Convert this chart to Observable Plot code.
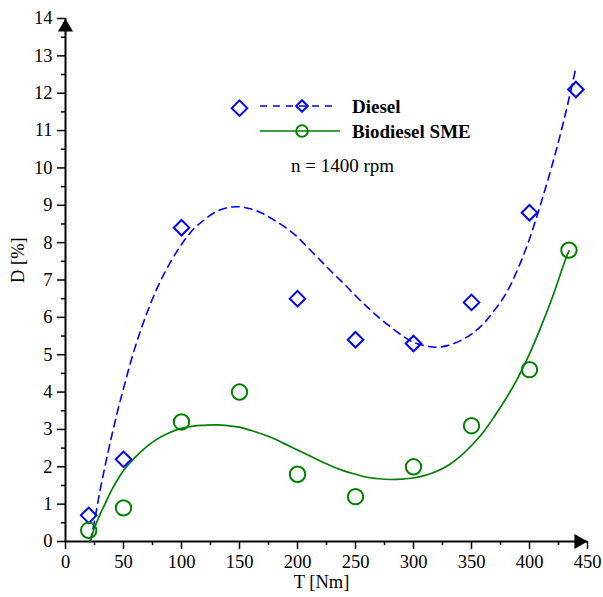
<!DOCTYPE html>
<html><head><meta charset="utf-8">
<script src="https://cdn.jsdelivr.net/npm/d3@7"></script>
<script src="https://cdn.jsdelivr.net/npm/@observablehq/plot@0.6"></script>
<style>html,body{margin:0;padding:0;background:#fff} svg{display:block}</style>
</head><body><div id="chart"></div>
<script>
// ---- data ----
const dieselT = [20, 50, 100, 150, 200, 250, 300, 350, 400, 440];
const dieselD = [0.7, 2.2, 8.4, 11.6, 6.5, 5.4, 5.3, 6.4, 8.8, 12.1];
const smeT = [20, 50, 100, 150, 200, 250, 300, 350, 400, 434];
const smeD = [0.3, 0.9, 3.2, 4.0, 1.8, 1.2, 2.0, 3.1, 4.6, 7.8];

// fitted curves
const dieselFitT = [21.5, 25, 30, 35, 40, 45, 50, 60, 70, 80, 90, 100, 110, 120, 130, 140, 150, 160, 170, 180, 190, 200, 210, 220, 230, 240, 250, 260, 270, 280, 290, 300, 310, 320, 330, 340, 350, 360, 370, 380, 390, 400, 410, 420, 430, 440];
const dieselFitD = [0, 0.55, 1.4, 2.15, 2.85, 3.5, 4.1, 5.2, 6.1, 6.85, 7.45, 7.95, 8.35, 8.62, 8.83, 8.94, 8.96, 8.9, 8.78, 8.6, 8.4, 8.15, 7.83, 7.52, 7.2, 6.9, 6.58, 6.28, 6.0, 5.75, 5.52, 5.33, 5.24, 5.2, 5.25, 5.37, 5.55, 5.82, 6.2, 6.65, 7.3, 8.1, 9.07, 10.13, 11.32, 12.68];
const smeFitT = [21, 25, 30, 35, 40, 45, 50, 60, 70, 80, 90, 100, 110, 120, 130, 140, 150, 160, 170, 180, 190, 200, 210, 220, 230, 240, 250, 260, 270, 280, 290, 300, 310, 320, 330, 340, 350, 360, 370, 380, 390, 400, 410, 420, 430, 434];
const smeFitD = [0, 0.37, 0.74, 1.07, 1.39, 1.66, 1.9, 2.25, 2.54, 2.76, 2.92, 3.03, 3.09, 3.11, 3.12, 3.1, 3.06, 2.97, 2.87, 2.75, 2.6, 2.45, 2.3, 2.15, 2.01, 1.89, 1.8, 1.72, 1.68, 1.66, 1.67, 1.7, 1.77, 1.88, 2.04, 2.27, 2.57, 2.92, 3.36, 3.84, 4.38, 5.02, 5.76, 6.56, 7.46, 7.78];

const xDomain = [0, 450];
const yDomain = [0, 14];
const xTicks = [0, 50, 100, 150, 200, 250, 300, 350, 400, 450];
const xMinor = [25, 75, 125, 175, 225, 275, 325, 375, 425];
const yTicks = [0, 1, 2, 3, 4, 5, 6, 7, 8, 9, 10, 11, 12, 13, 14];
const yMinor = [0.5, 1.5, 2.5, 3.5, 4.5, 5.5, 6.5, 7.5, 8.5, 9.5, 10.5, 11.5, 12.5, 13.5];

const xLabel = "T [Nm]";
const yLabel = "D [%]";
const seriesNames = ["Diesel", "Biodiesel SME"];
const note = "n = 1400 rpm";

const blue = "#0000ff";
const green = "#008000";
const font = "'Liberation Serif','Times New Roman',Times,serif";

const diesel = dieselT.map((t, i) => ({t, d: dieselD[i]}));
const sme = smeT.map((t, i) => ({t, d: smeD[i]}));
const dieselFit = dieselFitT.map((t, i) => ({t, d: dieselFitD[i]}));
const smeFit = smeFitT.map((t, i) => ({t, d: smeFitD[i]}));

const plot = Plot.plot({
  width: 603,
  height: 597,
  marginLeft: 65,
  marginRight: 16,
  marginTop: 18,
  marginBottom: 56,
  style: {fontFamily: font, fontSize: "18.5px", color: "#000", background: "#fff", overflow: "visible"},
  x: {domain: xDomain},
  y: {domain: yDomain},
  marks: [
    Plot.axisX(xMinor, {tickSize: 4, text: null, strokeWidth: 1.5, label: null}),
    Plot.axisX(xTicks, {tickSize: 8, tickPadding: 5, strokeWidth: 1.5, label: null, fontSize: 18.5}),
    Plot.axisY(yMinor, {tickSize: 4, text: null, strokeWidth: 1.5, label: null}),
    Plot.axisY(yTicks, {tickSize: 8, tickPadding: 5, strokeWidth: 1.5, label: null, fontSize: 18.5}),
    Plot.ruleY([yDomain[0]], {strokeWidth: 2}),
    Plot.ruleX([xDomain[0]], {strokeWidth: 2}),
    Plot.dot([{x: xDomain[0], y: yDomain[1]}], {x: "x", y: "y", symbol: "triangle", r: 5.6, fill: "#000", stroke: "none", dy: 8.7}),
    Plot.dot([{x: xDomain[1], y: yDomain[0]}], {x: "x", y: "y", symbol: "triangle", r: 5.6, fill: "#000", stroke: "none", rotate: 90, dx: -8.7}),
    Plot.text([xLabel], {frameAnchor: "bottom", dy: 46, dx: -5, fontSize: 18.5}),
    Plot.text([yLabel], {frameAnchor: "left", dx: -47, dy: 3, rotate: -90, fontSize: 18.5}),
    Plot.line(dieselFit, {x: "t", y: "d", stroke: blue, strokeWidth: 1.6, strokeDasharray: "7.5,5.5", curve: "catmull-rom"}),
    Plot.line(smeFit, {x: "t", y: "d", stroke: green, strokeWidth: 1.7, curve: "catmull-rom"}),
    Plot.dot(diesel, {x: "t", y: "d", symbol: "diamond2", r: 7, stroke: blue, strokeWidth: 2, fill: "none"}),
    Plot.dot(sme, {x: "t", y: "d", symbol: "circle", r: 7.7, stroke: green, strokeWidth: 2, fill: "none"})
  ]
});

// legend inside the plot area
const svg = d3.select(plot);
const lg = svg.append("g").attr("font-family", font).attr("fill", "#000").attr("text-anchor", "start");
lg.append("line").attr("x1", 260).attr("x2", 338).attr("y1", 106).attr("y2", 106)
  .attr("stroke", blue).attr("stroke-width", 1.6).attr("stroke-dasharray", "7,6");
lg.append("path").attr("transform", "translate(302,106)")
  .attr("d", d3.symbol(d3.symbolDiamond2, 86)()).attr("fill", "none").attr("stroke", blue).attr("stroke-width", 2);
lg.append("text").attr("x", 352).attr("y", 112.5).attr("font-weight", "bold").style("font-size", "19px").text(seriesNames[0]);
lg.append("line").attr("x1", 260).attr("x2", 340).attr("y1", 131).attr("y2", 131)
  .attr("stroke", green).attr("stroke-width", 1.7);
lg.append("circle").attr("cx", 302).attr("cy", 131).attr("r", 5.8).attr("fill", "none").attr("stroke", green).attr("stroke-width", 2);
lg.append("text").attr("x", 352).attr("y", 137.5).attr("font-weight", "bold").style("font-size", "19px").text(seriesNames[1]);
lg.append("text").attr("x", 291).attr("y", 172).style("font-size", "19px").text(note);

document.getElementById("chart").appendChild(plot);
</script>
</body></html>
